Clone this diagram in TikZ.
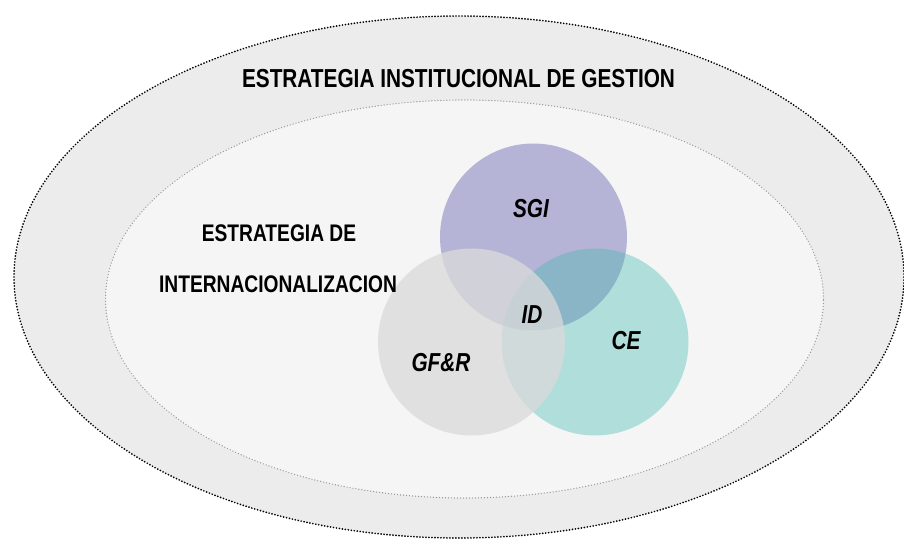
\documentclass[tikz,border=0pt]{standalone}
\usepackage{fontspec}
\newfontfamily\narrowsans[FakeStretch=0.80]{Liberation Sans}
\usetikzlibrary{shapes.geometric}

\definecolor{ringouter}{RGB}{236,236,236}
\definecolor{ringinner}{RGB}{245,245,245}
\definecolor{sgicolor}{RGB}{182,180,214}
\definecolor{cecolor}{RGB}{60,184,174}
\definecolor{gfrcolor}{RGB}{218,218,218}

\tikzset{
    ring/.style={ellipse, inner sep=0pt, line cap=round},
    setcircle/.style={circle, minimum size=187pt, inner sep=0pt},
    caption/.style={font=\narrowsans\bfseries\fontsize{26}{30}\selectfont},
    subcaption/.style={font=\narrowsans\bfseries\fontsize{24}{28}\selectfont},
    setlabel/.style={font=\narrowsans\bfseries\itshape\fontsize{26}{30}\selectfont}
}

\begin{document}
\begin{tikzpicture}[x=1pt, y=-1pt]
        \useasboundingbox (0, 0) rectangle (904, 543);

        % outer and inner strategy
        \node[ring, fill=ringouter, draw=black, line width=1.9pt, dash pattern=on 0pt off 3pt,
              minimum width=890pt, minimum height=522pt] (outer) at (459, 277) {};
        \node[ring, fill=ringinner, draw=black!40, line width=1.4pt, dash pattern=on 0pt off 3pt,
              minimum width=718pt, minimum height=398pt] (inner) at (464.5, 299) {};

        % the three sets
        \node[setcircle, fill=sgicolor] (sgi) at (533.5, 237) {};
        \node[setcircle, fill=cecolor, fill opacity=0.37] (ce) at (595, 342) {};
        \node[setcircle, fill=gfrcolor, fill opacity=0.77] (gfr) at (471.5, 342) {};

        \node[caption] (titulo) at (458.5, 79) {ESTRATEGIA INSTITUCIONAL DE GESTION};
        \node[subcaption] (estrat) at (279, 233) {ESTRATEGIA DE};
        \node[subcaption] (intern) at (278, 284) {INTERNACIONALIZACION};

        \node[setlabel] (sgitxt) at (531, 209) {SGI};
        \node[setlabel] (idtxt) at (532, 315) {ID};
        \node[setlabel] (cetxt) at (626, 341) {CE};
        \node[setlabel] (gfrtxt) at (441, 363) {GF\&R};
\end{tikzpicture}
\end{document}
